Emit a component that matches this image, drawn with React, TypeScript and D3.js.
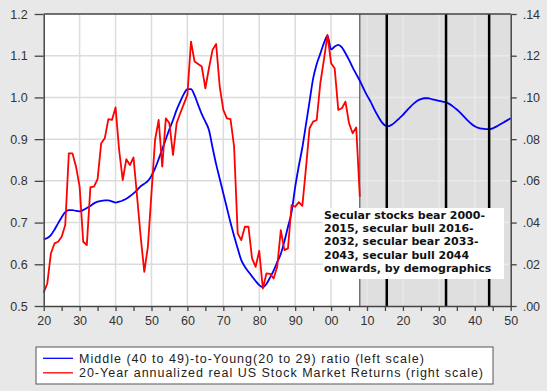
import { useRef, useEffect } from 'react';
import * as d3 from 'd3';

// years on the x axis (1920 - 2050)
const years = d3.range(1920, 2051);

// Middle (40-49) to Young (20-29) ratio, left scale, 1920-2050
const ratio = [
  0.66, 0.663, 0.67, 0.683, 0.698, 0.713, 0.725, 0.73, 0.73, 0.728,
  0.727, 0.73, 0.735, 0.74, 0.746, 0.75, 0.752, 0.753, 0.753, 0.751,
  0.748, 0.75, 0.753, 0.757, 0.763, 0.77, 0.778, 0.787, 0.793, 0.8,
  0.812, 0.83, 0.852, 0.876, 0.9, 0.924, 0.946, 0.97, 0.99, 1.008,
  1.02, 1.02, 1.005, 0.982, 0.96, 0.942, 0.922, 0.88, 0.84, 0.805,
  0.77, 0.735, 0.7, 0.668, 0.638, 0.61, 0.594, 0.582, 0.571, 0.56,
  0.55, 0.545, 0.553, 0.568, 0.585, 0.605, 0.625, 0.655, 0.69, 0.725,
  0.785, 0.835, 0.88, 0.935, 0.99, 1.045, 1.08, 1.105, 1.13, 1.148,
  1.115, 1.122, 1.126, 1.12, 1.106, 1.09, 1.072, 1.056, 1.04, 1.022,
  1.005, 0.99, 0.972, 0.956, 0.942, 0.933, 0.931, 0.935, 0.942, 0.95,
  0.958, 0.968, 0.977, 0.985, 0.992, 0.996, 0.998, 0.998, 0.996, 0.994,
  0.992, 0.99, 0.988, 0.984, 0.978, 0.971, 0.963, 0.954, 0.945, 0.937,
  0.931, 0.927, 0.925, 0.924, 0.924, 0.926, 0.93, 0.935, 0.94, 0.945,
  0.95,
];

// 20-year annualized real US stock market returns, right scale, 1920-2008
const returns = [
  0.0064, 0.0108, 0.0252, 0.03, 0.0308, 0.0332, 0.0388, 0.0732, 0.0732, 0.0668,
  0.0572, 0.0308, 0.0292, 0.057, 0.0572, 0.0608, 0.078, 0.0804, 0.0896, 0.0892,
  0.0952, 0.0748, 0.0604, 0.0704, 0.0676, 0.0712, 0.0524, 0.0332, 0.0164, 0.0284,
  0.054, 0.0796, 0.0892, 0.0668, 0.09, 0.0876, 0.0724, 0.0876, 0.0924, 0.0968,
  0.1012, 0.1268, 0.1172, 0.116, 0.1148, 0.1044, 0.114, 0.1228, 0.1256, 0.1052,
  0.094, 0.09, 0.0896, 0.0764, 0.0348, 0.0316, 0.038, 0.038, 0.0228, 0.0188,
  0.0264, 0.0084, 0.0156, 0.0154, 0.0132, 0.0188, 0.0364, 0.0268, 0.0276, 0.0484,
  0.0476, 0.0498, 0.048, 0.066, 0.0852, 0.0884, 0.0892, 0.1068, 0.118, 0.13,
  0.1164, 0.114, 0.094, 0.0948, 0.098, 0.0876, 0.0828, 0.0856, 0.0524,
];

const leftTicks = [0.5, 0.6, 0.7, 0.8, 0.9, 1.0, 1.1, 1.2];
const rightTicks = [0, 0.02, 0.04, 0.06, 0.08, 0.1, 0.12, 0.14];
const xTicks = d3.range(1920, 2051, 5);
const shadeStart = 2008;
const regimeLines = [2015.5, 2032, 2044];

const note = [
  'Secular stocks bear 2000-',
  '2015, secular bull 2016-',
  '2032, secular bear 2033-',
  '2043, secular bull 2044',
  'onwards, by demographics',
];

const legendItems = [
  { label: 'Middle (40 to 49)-to-Young(20 to 29) ratio (left scale)', color: '#0000ff' },
  { label: '20-Year annualized real US Stock Market Returns (right scale)', color: '#ff0000' },
];

const width = 547;
const height = 391;
const dimensions = { top: 14, left: 43.7, bottom: 85, right: 36.3 };

const Chart = () => {
  const ref = useRef<SVGSVGElement>(null);

  useEffect(() => {
    const svg = d3.select(ref.current);
    svg.selectAll('*').remove();

    const x = d3
      .scaleLinear()
      .domain([1920, 2050])
      .range([dimensions.left, width - dimensions.right]);
    const yLeft = d3
      .scaleLinear()
      .domain([0.5, 1.2])
      .range([height - dimensions.bottom, dimensions.top]);
    const yRight = d3
      .scaleLinear()
      .domain([0, 0.14])
      .range([height - dimensions.bottom, dimensions.top]);

    const top = dimensions.top;
    const bottom = height - dimensions.bottom;
    const left = dimensions.left;
    const right = width - dimensions.right;

    svg.append('rect').attr('width', width).attr('height', height).attr('fill', '#e8e8e8');
    svg
      .append('rect')
      .attr('x', left)
      .attr('y', top)
      .attr('width', right - left)
      .attr('height', bottom - top)
      .attr('fill', '#ffffff');
    svg
      .append('rect')
      .attr('x', x(shadeStart))
      .attr('y', top)
      .attr('width', right - x(shadeStart))
      .attr('height', bottom - top)
      .attr('fill', '#dfdfdf');

    // grid
    const grid = svg.append('g').attr('stroke-width', 1.5);
    d3.range(1930, 2050, 10).forEach((yr) => {
      grid
        .append('line')
        .attr('x1', x(yr))
        .attr('x2', x(yr))
        .attr('y1', top)
        .attr('y2', bottom)
        .attr('stroke', yr < shadeStart ? '#dcdcdc' : '#e9e9e9');
    });
    leftTicks.slice(1, -1).forEach((v) => {
      grid
        .append('line')
        .attr('x1', left)
        .attr('x2', x(shadeStart))
        .attr('y1', yLeft(v))
        .attr('y2', yLeft(v))
        .attr('stroke', '#dcdcdc');
      grid
        .append('line')
        .attr('x1', x(shadeStart))
        .attr('x2', right)
        .attr('y1', yLeft(v))
        .attr('y2', yLeft(v))
        .attr('stroke', '#e9e9e9');
    });

    svg
      .append('line')
      .attr('x1', x(shadeStart))
      .attr('x2', x(shadeStart))
      .attr('y1', top)
      .attr('y2', bottom)
      .attr('stroke', '#333')
      .attr('stroke-width', 1);

    // series
    const blueLine = d3
      .line<number>()
      .x((d, i) => x(years[i]))
      .y((d) => yLeft(d))
      .curve(d3.curveMonotoneX);
    svg
      .append('path')
      .attr('d', blueLine(ratio))
      .attr('fill', 'none')
      .attr('stroke', '#0000ff')
      .attr('stroke-width', 1.8);

    const redLine = d3
      .line<number>()
      .x((d, i) => x(years[i]))
      .y((d) => yRight(d));
    svg
      .append('path')
      .attr('d', redLine(returns))
      .attr('fill', 'none')
      .attr('stroke', '#ff0000')
      .attr('stroke-width', 1.8)
      .attr('stroke-linejoin', 'round');

    regimeLines.forEach((yr) => {
      svg
        .append('line')
        .attr('x1', x(yr))
        .attr('x2', x(yr))
        .attr('y1', top)
        .attr('y2', bottom)
        .attr('stroke', '#000')
        .attr('stroke-width', 2.5);
    });

    // annotation
    const box = svg.append('g');
    box
      .append('rect')
      .attr('x', 322.7)
      .attr('y', 208)
      .attr('width', 181.3)
      .attr('height', 71)
      .attr('fill', '#ffffff');
    box
      .selectAll('text')
      .data(note)
      .enter()
      .append('text')
      .attr('x', 324)
      .attr('y', (d, i) => 218.5 + i * 13.4)
      .attr('font-family', 'DejaVu Sans')
      .attr('font-weight', 'bold')
      .attr('font-size', 11)
      .attr('fill', '#111')
      .text((d) => d);

    // axes
    const axisFont = (g: any) =>
      g
        .selectAll('text')
        .attr('font-family', 'Liberation Sans, Arial')
        .attr('font-size', 12.5)
        .attr('fill', '#333');

    const leftAxis = svg
      .append('g')
      .attr('transform', `translate(${left},0)`)
      .call(
        d3
          .axisLeft(yLeft)
          .tickValues(leftTicks)
          .tickFormat((d: any) => d3.format('.1f')(d))
          .tickSize(9)
          .tickSizeOuter(0)
          .tickPadding(7)
      );
    axisFont(leftAxis);

    const rightAxis = svg
      .append('g')
      .attr('transform', `translate(${right},0)`)
      .call(
        d3
          .axisRight(yRight)
          .tickValues(rightTicks)
          .tickFormat((d: any) => d3.format('.2f')(d).replace(/^0/, ''))
          .tickSize(6)
          .tickSizeOuter(0)
          .tickPadding(6)
      );
    axisFont(rightAxis);

    const bottomAxis = svg
      .append('g')
      .attr('transform', `translate(0,${bottom})`)
      .call(
        d3
          .axisBottom(x)
          .tickValues(xTicks)
          .tickFormat((d: any) => (d % 10 === 0 ? String(d % 100).padStart(2, '0') : ''))
          .tickSize(5)
          .tickSizeOuter(0)
          .tickPadding(5)
      );
    axisFont(bottomAxis);

    [leftAxis, rightAxis, bottomAxis].forEach((g) => {
      g.selectAll('line').attr('stroke', '#444').attr('stroke-width', 1.3);
      g.select('.domain').attr('stroke', '#444').attr('stroke-width', 1.5);
    });

    svg
      .append('line')
      .attr('x1', left)
      .attr('x2', right)
      .attr('y1', top)
      .attr('y2', top)
      .attr('stroke', '#444')
      .attr('stroke-width', 1.5);

    // legend
    const legend = svg.append('g');
    legend
      .append('rect')
      .attr('x', 36)
      .attr('y', 347)
      .attr('width', 457)
      .attr('height', 37)
      .attr('fill', '#ffffff')
      .attr('stroke', '#555')
      .attr('stroke-width', 1);
    legendItems.forEach((item, i) => {
      const ly = 358.3 + i * 14.5;
      legend
        .append('line')
        .attr('x1', 43)
        .attr('x2', 73)
        .attr('y1', ly)
        .attr('y2', ly)
        .attr('stroke', item.color)
        .attr('stroke-width', 1.3);
      legend
        .append('text')
        .attr('x', 79)
        .attr('y', ly + 4.5)
        .attr('font-family', 'Liberation Sans, Arial')
        .attr('font-size', 12.5)
        .attr('fill', '#222')
        .attr('textLength', i === 0 ? 345 : 404)
        .attr('lengthAdjust', 'spacing')
        .text(item.label);
    });
  }, []);

  return (
    <svg
      ref={ref}
      width={width}
      height={height}
      style={{ position: 'absolute', left: 0, top: 0, display: 'block' }}
    ></svg>
  );
};

export default function App() {
  return <Chart />;
}
